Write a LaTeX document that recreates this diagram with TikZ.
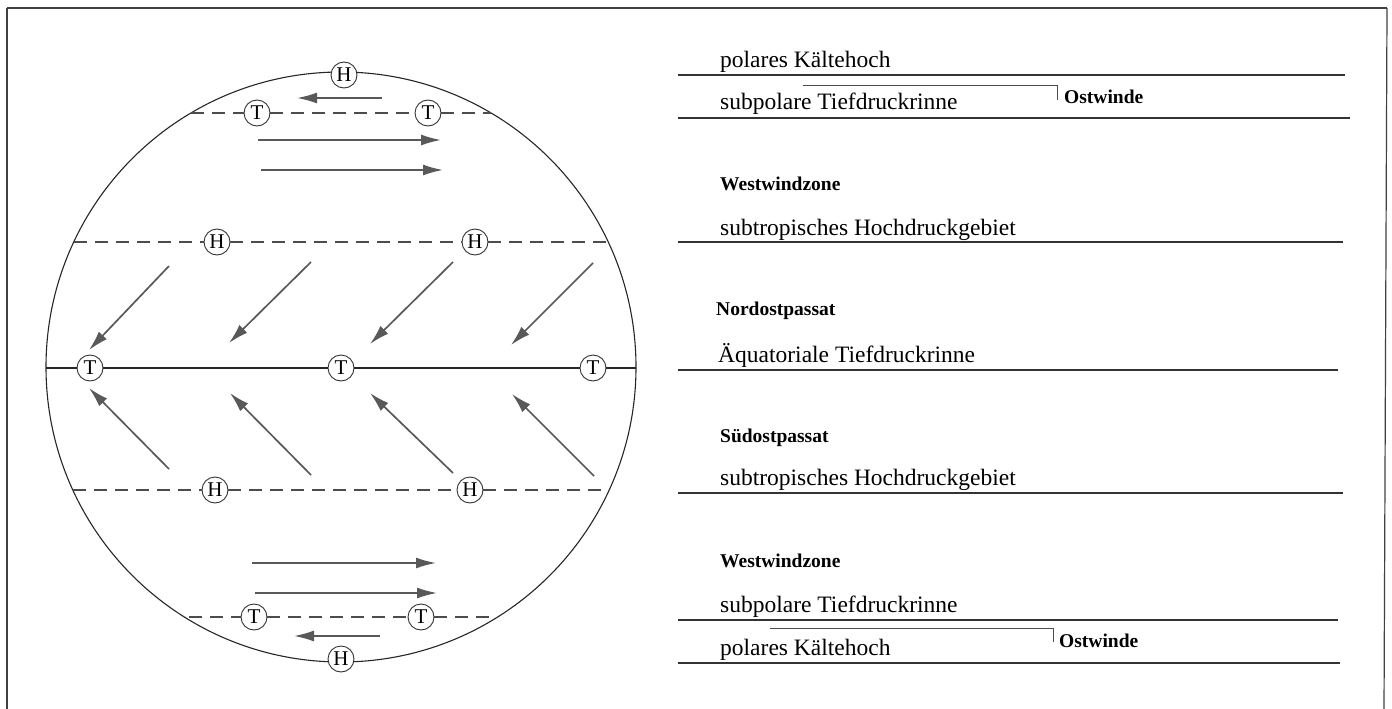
\documentclass[tikz,border=0pt]{standalone}
\usepackage{fontspec}
\setmainfont{Liberation Serif}
\usetikzlibrary{arrows.meta}
\begin{document}
\begin{tikzpicture}[x=1pt,y=-1pt,
  pnode/.style={circle,draw=black!80,fill=white,inner sep=0pt,minimum size=26pt,font=\fontsize{21}{21}\selectfont,line width=0.9pt},
  wind/.style={draw=black!65,line width=1.7pt,-{Latex[length=20pt,width=11pt]}},
  zone/.style={draw=black!70,dash pattern=on 13pt off 8pt,line width=1.4pt},
  equ/.style={draw=black!85,line width=1.2pt},
  lab/.style={anchor=base west,font=\fontsize{23.5}{26}\selectfont,inner sep=0pt},
  blab/.style={anchor=base west,font=\fontsize{19.5}{24}\selectfont\bfseries,inner sep=0pt},
  rulel/.style={draw=black!80,line width=1.5pt},
  brack/.style={draw=black!70,line width=1pt},
  frame/.style={draw=black!75,line width=1.2pt}]
\useasboundingbox (0,0) rectangle (1392,709);
% frame
\coordinate (fbl) at (7,709);
\coordinate (ftl) at (7,8);
\coordinate (ftr) at (1387,8);
\coordinate (fbr) at (1384,709);
\draw[frame] (fbl) -- (ftl);
\draw[frame,line width=2.6pt] (ftl) -- (ftr);
\draw[frame] (ftr) -- (fbr);
% globe
\node[circle,draw=black!85,line width=1.1pt,minimum size=590pt,inner sep=0pt] (globe) at (341,367) {};
% pressure nodes
\node[pnode] (Hn) at (344,75) {H};
\node[pnode] (Tn1) at (257,113) {T};
\node[pnode] (Tn2) at (428,113) {T};
\node[pnode] (Hs1) at (217,242) {H};
\node[pnode] (Hs2) at (475,242) {H};
\node[pnode] (Te1) at (90,368) {T};
\node[pnode] (Te2) at (341,368) {T};
\node[pnode] (Te3) at (593,368) {T};
\node[pnode] (Hss1) at (215,490) {H};
\node[pnode] (Hss2) at (470,490) {H};
\node[pnode] (Ts1) at (254,617) {T};
\node[pnode] (Ts2) at (421,617) {T};
\node[pnode] (Hsp) at (341,659) {H};
% line ends on the globe
\coordinate (a1) at (191,113); \coordinate (a2) at (491,113);
\coordinate (b1) at (74,242); \coordinate (b2) at (608,242);
\coordinate (c1) at (46,368); \coordinate (c2) at (636,368);
\coordinate (d1) at (73,490); \coordinate (d2) at (609,490);
\coordinate (e1) at (189,617); \coordinate (e2) at (493,617);
\draw[zone] (a1) -- (Tn1) (Tn1) -- (Tn2) (Tn2) -- (a2);
\draw[zone] (b1) -- (Hs1) (Hs1) -- (Hs2) (Hs2) -- (b2);
\draw[equ] (c1) -- (Te1) (Te1) -- (Te2) (Te2) -- (Te3) (Te3) -- (c2);
\draw[zone] (d1) -- (Hss1) (Hss1) -- (Hss2) (Hss2) -- (d2);
\draw[zone] (e1) -- (Ts1) (Ts1) -- (Ts2) (Ts2) -- (e2);
% polar easterlies
\coordinate (pe1s) at (382,98); \coordinate (pe1e) at (297,98);
\coordinate (pe2s) at (380,636); \coordinate (pe2e) at (294,636);
\draw[wind] (pe1s) -- (pe1e);
\draw[wind] (pe2s) -- (pe2e);
% westerlies
\coordinate (w1s) at (258,140); \coordinate (w1e) at (441,140);
\coordinate (w2s) at (261,170); \coordinate (w2e) at (443,170);
\coordinate (w3s) at (252,563); \coordinate (w3e) at (436,563);
\coordinate (w4s) at (255,593); \coordinate (w4e) at (437,593);
\draw[wind] (w1s) -- (w1e);
\draw[wind] (w2s) -- (w2e);
\draw[wind] (w3s) -- (w3e);
\draw[wind] (w4s) -- (w4e);
% NE trades
\coordinate (n1s) at (169,266); \coordinate (n1e) at (89,350);
\coordinate (n2s) at (311,262); \coordinate (n2e) at (229,343);
\coordinate (n3s) at (453,262); \coordinate (n3e) at (370,344);
\coordinate (n4s) at (593,263); \coordinate (n4e) at (511,345);
\draw[wind] (n1s) -- (n1e);
\draw[wind] (n2s) -- (n2e);
\draw[wind] (n3s) -- (n3e);
\draw[wind] (n4s) -- (n4e);
% SE trades
\coordinate (s1s) at (169,469); \coordinate (s1e) at (89,388);
\coordinate (s2s) at (311,475); \coordinate (s2e) at (230,393);
\coordinate (s3s) at (453,473); \coordinate (s3e) at (370,393);
\coordinate (s4s) at (594,476); \coordinate (s4e) at (512,394);
\draw[wind] (s1s) -- (s1e);
\draw[wind] (s2s) -- (s2e);
\draw[wind] (s3s) -- (s3e);
\draw[wind] (s4s) -- (s4e);
% right-hand legend
\node[lab] (t1) at (720,67) {polares Kältehoch};
\coordinate (r1a) at (678,75); \coordinate (r1b) at (1345,75);
\draw[rulel] (r1a) -- (r1b);
\node[lab] (t2) at (720,109) {subpolare Tiefdruckrinne};
\coordinate (r2a) at (678,118); \coordinate (r2b) at (1350,118);
\draw[rulel] (r2a) -- (r2b);
\node[blab] (o1) at (1064,103) {Ostwinde};
\coordinate (k1a) at (803,85); \coordinate (k1b) at (1057,85); \coordinate (k1c) at (1057,100);
\draw[brack] (k1a) -- (k1b) -- (k1c);
\node[blab] (t3) at (720,190) {Westwindzone};
\node[lab] (t4) at (720,235) {subtropisches Hochdruckgebiet};
\coordinate (r3a) at (678,242); \coordinate (r3b) at (1343,242);
\draw[rulel] (r3a) -- (r3b);
\node[blab] (t5) at (716,315) {Nordostpassat};
\node[lab] (t6) at (718,362) {Äquatoriale Tiefdruckrinne};
\coordinate (r4a) at (678,370); \coordinate (r4b) at (1338,370);
\draw[rulel] (r4a) -- (r4b);
\node[blab] (t7) at (720,442) {Südostpassat};
\node[lab] (t8) at (720,485) {subtropisches Hochdruckgebiet};
\coordinate (r5a) at (678,493); \coordinate (r5b) at (1343,493);
\draw[rulel] (r5a) -- (r5b);
\node[blab] (t9) at (720,567) {Westwindzone};
\node[lab] (t10) at (720,612) {subpolare Tiefdruckrinne};
\coordinate (r6a) at (678,620); \coordinate (r6b) at (1338,620);
\draw[rulel] (r6a) -- (r6b);
\node[blab] (o2) at (1059,647) {Ostwinde};
\coordinate (k2a) at (770,628); \coordinate (k2b) at (1053,628); \coordinate (k2c) at (1053,642);
\draw[brack] (k2a) -- (k2b) -- (k2c);
\node[lab] (t11) at (720,655) {polares Kältehoch};
\coordinate (r7a) at (678,663); \coordinate (r7b) at (1340,663);
\draw[rulel] (r7a) -- (r7b);
\end{tikzpicture}
\end{document}
